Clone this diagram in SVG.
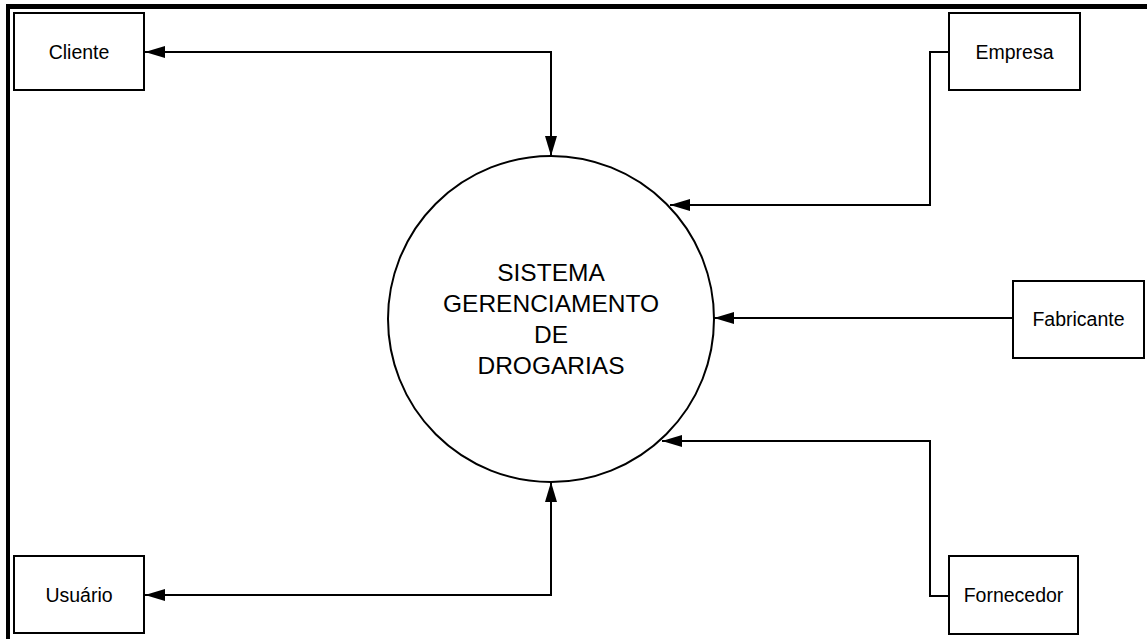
<svg xmlns="http://www.w3.org/2000/svg" width="1147" height="639" viewBox="0 0 1147 639">
<style>
.box{fill:#fff;stroke:#000;stroke-width:2}
.lbl{font-family:"Liberation Sans",Arial,sans-serif;font-size:19.5px;fill:#000;text-anchor:middle}
.ctr{font-family:"Liberation Sans",Arial,sans-serif;font-size:24.5px;fill:#000;text-anchor:middle}
.con{fill:none;stroke:#000;stroke-width:2}
</style>
<defs>
<marker id="ah" viewBox="0 0 20 12" refX="20" refY="6" markerWidth="20" markerHeight="12" markerUnits="userSpaceOnUse" orient="auto-start-reverse">
<path d="M0,0 L20,6 L0,12 z" fill="#000"/>
</marker>
</defs>
<rect width="1147" height="639" fill="#fff"/>
<g id="frame">
<rect x="6" y="4" width="1141" height="5" fill="#000"/>
<rect x="6" y="4" width="4" height="635" fill="#000"/>
</g>
<g id="connectors">
<path class="con" d="M551,156 L551,52 L145,52" marker-start="url(#ah)" marker-end="url(#ah)"/>
<path class="con" d="M551,482 L551,595 L145,595" marker-start="url(#ah)" marker-end="url(#ah)"/>
<path class="con" d="M949,52 L930,52 L930,205 L670,205" marker-end="url(#ah)"/>
<path class="con" d="M1013,318 L714,318" marker-end="url(#ah)"/>
<path class="con" d="M949,596 L930,596 L930,441 L662,441" marker-end="url(#ah)"/>
</g>
<g id="sistema">
<circle cx="551" cy="319" r="163" fill="#fff" stroke="#000" stroke-width="2"/>
<text class="ctr" x="551" y="281">SISTEMA</text>
<text class="ctr" x="551" y="312">GERENCIAMENTO</text>
<text class="ctr" x="551" y="343">DE</text>
<text class="ctr" x="551" y="374">DROGARIAS</text>
</g>
<g id="cliente">
<rect class="box" x="14" y="13" width="130" height="77"/>
<text class="lbl" x="79" y="58.5">Cliente</text>
</g>
<g id="empresa">
<rect class="box" x="949" y="13" width="131" height="77"/>
<text class="lbl" x="1014.5" y="58.5">Empresa</text>
</g>
<g id="fabricante">
<rect class="box" x="1013" y="281" width="131" height="77"/>
<text class="lbl" x="1078.5" y="326">Fabricante</text>
</g>
<g id="usuario">
<rect class="box" x="14" y="556" width="130" height="77"/>
<text class="lbl" x="79" y="601.5">Usuário</text>
</g>
<g id="fornecedor">
<rect class="box" x="949" y="556" width="129" height="78"/>
<text class="lbl" x="1013.5" y="602">Fornecedor</text>
</g>
</svg>
